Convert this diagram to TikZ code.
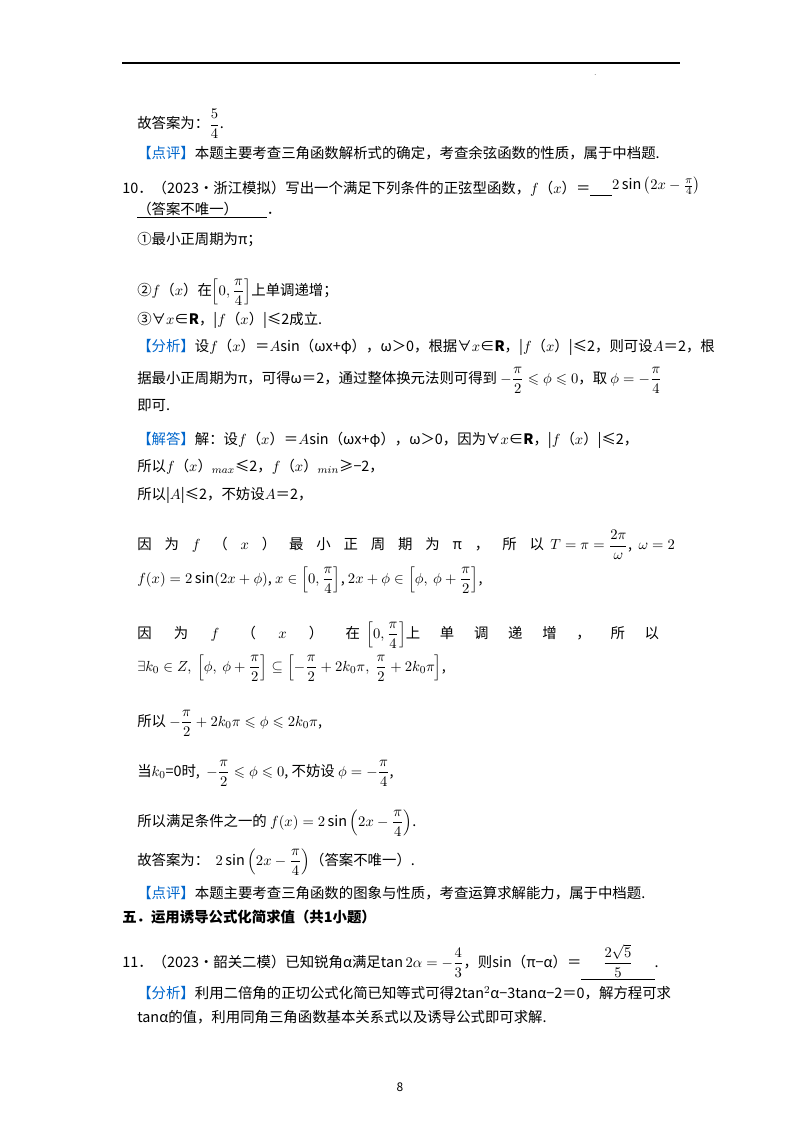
\documentclass[tikz,border=0pt]{standalone}
\usepackage{amsmath,amssymb}
\usepackage{fontspec}
\setmainfont{Noto Sans CJK SC}
\definecolor{tagblue}{RGB}{0,102,204}
\newcommand{\tagb}[1]{\textcolor{tagblue}{【#1】}}
\begin{document}
\begin{tikzpicture}[x=0.75pt,y=-0.75pt,font=\fontsize{10.8}{13}\selectfont,
  every node/.style={anchor=west,inner sep=0pt}]
\useasboundingbox (0,0) rectangle (800,1132);
\coordinate (r1) at (122,63); \coordinate (r2) at (680,63);
\draw[line width=0.8pt] (r1) -- (r2);
\node (dot) at (594,75) {\tiny .};
\node (l1) at (137,124) {故答案为：$\dfrac{5}{4}$.};
\node (l2) at (137,153) {\tagb{点评}本题主要考查三角函数解析式的确定，考查余弦函数的性质，属于中档题.};
\node (l3) at (122,187) {10．（2023•浙江模拟）写出一个满足下列条件的正弦型函数，$f$（$x$）＝\underline{\hspace{1.5em}}\raisebox{3pt}{$2\sin\left(2x-\tfrac{\pi}{4}\right)$}};
\node (l4) at (137,210) {\underline{（答案不唯一）\hspace{2em}}．};
\node (l5) at (137,240) {①最小正周期为π；};
\node (l6) at (137,292) {②$f$（$x$）在$\left[0,\dfrac{\pi}{4}\right]$上单调递增；};
\node (l7) at (137,320) {③∀$x$∈\textbf{R}，|$f$（$x$）|≤2成立.};
\node (l8) at (137,347) {\tagb{分析}设$f$（$x$）＝$A$sin（ωx+φ），ω＞0，根据∀$x$∈\textbf{R}，|$f$（$x$）|≤2，则可设$A$＝2，根};
\node (l9) at (137,380) {据最小正周期为π，可得ω＝2，通过整体换元法则可得到\ $-\dfrac{\pi}{2}\leqslant\phi\leqslant0$，取\ $\phi=-\dfrac{\pi}{4}$};
\node (l10) at (137,405) {即可.};
\node (l11) at (137,440) {\tagb{解答}解：设$f$（$x$）＝$A$sin（ωx+φ），ω＞0，因为∀$x$∈\textbf{R}，|$f$（$x$）|≤2，};
\node (l12) at (137,467) {所以$f$（$x$）$_{max}$≤2，$f$（$x$）$_{min}$≥−2，};
\node (l13) at (137,495) {所以|$A$|≤2，不妨设$A$＝2，};
\node (l14) at (137,545) {\hbox to 305pt{因\hfill 为\hfill $f$\hfill （\hfill $x$\hfill ）\hfill 最\hfill 小\hfill 正\hfill 周\hfill 期\hfill 为\hfill π\hfill ，\hfill 所\hfill 以}\ \ $T=\pi=\dfrac{2\pi}{\omega}$,\ \ $\omega=2$};
\node (l15) at (137,580) {$f(x)=2\sin(2x+\phi)$,\ $x\in\left[0,\dfrac{\pi}{4}\right]$,\ $2x+\phi\in\left[\phi,\ \phi+\dfrac{\pi}{2}\right]$,};
\node (l16) at (137,635) {\hbox to 167pt{因\hfill 为\hfill $f$\hfill （\hfill $x$\hfill ）\hfill 在}\ \ $\left[0,\dfrac{\pi}{4}\right]$\hbox to 190pt{上\hfill 单\hfill 调\hfill 递\hfill 增\hfill ，\hfill 所\hfill 以}};
\node (l17) at (137,668) {$\exists k_0\in Z,\ \left[\phi,\ \phi+\dfrac{\pi}{2}\right]\subseteq\left[-\dfrac{\pi}{2}+2k_0\pi,\ \dfrac{\pi}{2}+2k_0\pi\right]$,};
\node (l18) at (137,723) {所以\ $-\dfrac{\pi}{2}+2k_0\pi\leqslant\phi\leqslant2k_0\pi$,};
\node (l19) at (137,773) {当$k_0$=0时,\ \ $-\dfrac{\pi}{2}\leqslant\phi\leqslant0$,\ 不妨设\ $\phi=-\dfrac{\pi}{4}$,};
\node (l20) at (137,823) {所以满足条件之一的\ $f(x)=2\sin\left(2x-\dfrac{\pi}{4}\right)$.};
\node (l21) at (137,862) {故答案为：\ \ $2\sin\left(2x-\dfrac{\pi}{4}\right)$（答案不唯一）.};
\node (l22) at (137,893) {\tagb{点评}本题主要考查三角函数的图象与性质，考查运算求解能力，属于中档题.};
\node (l23) at (122,917) {\textbf{五．运用诱导公式化简求值（共1小题）}};
\node (l24) at (122,962) {11．（2023•韶关二模）已知锐角α满足$\tan2\alpha=-\dfrac{4}{3}$，则sin（π−α）＝\underline{\hspace{1.5em}$\dfrac{2\sqrt5}{5}$\hspace{1.5em}}.};
\node (l25) at (137,993) {\tagb{分析}利用二倍角的正切公式化简已知等式可得2tan$^2$α−3tanα−2＝0，解方程可求};
\node (l26) at (137,1017) {tanα的值，利用同角三角函数基本关系式以及诱导公式即可求解.};
\node[anchor=center] (pg) at (400,1087) {\small 8};
\end{tikzpicture}
\end{document}
